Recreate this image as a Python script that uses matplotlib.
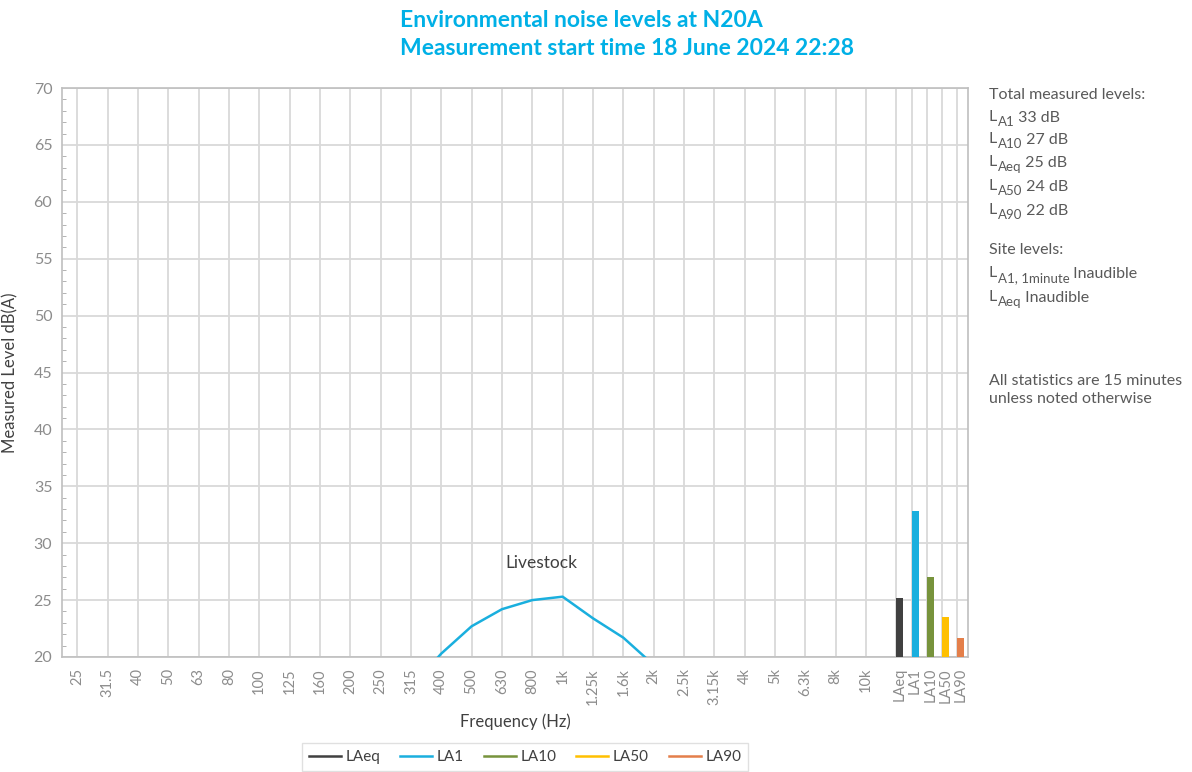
import matplotlib.pyplot as plt
import numpy as np
from matplotlib.lines import Line2D

plt.rcParams['font.family'] = ['Lato', 'DejaVu Sans']

# one-third octave bands shown on the x axis
bands = ['25', '31.5', '40', '50', '63', '80', '100', '125', '160', '200', '250',
         '315', '400', '500', '630', '800', '1k', '1.25k', '1.6k', '2k', '2.5k',
         '3.15k', '4k', '5k', '6.3k', '8k', '10k']
# LA1 spectrum (only the part above 20 dB is visible)
la1_spectrum = [np.nan] * 11 + [17.3, 20.3, 22.7, 24.2, 25.0, 25.3, 23.4, 21.7, 19.3] + [np.nan] * 7

stat_names = ['LAeq', 'LA1', 'LA10', 'LA50', 'LA90']
stat_values = [25.2, 32.8, 27.0, 23.5, 21.7]
stat_colors = ['#404040', '#1AAFDE', '#77933C', '#FFC000', '#E47F4A']

summary = [('A1', '33 dB'), ('A10', '27 dB'), ('Aeq', '25 dB'), ('A50', '24 dB'), ('A90', '22 dB')]
site = [('A1, 1minute', 'Inaudible'), ('Aeq', 'Inaudible')]

fig = plt.figure(figsize=(11.92, 7.72), dpi=100)
ax = fig.add_axes([62 / 1192, 1 - 657 / 772, (968 - 62) / 1192, (657 - 88) / 772])

x = np.arange(len(bands))
ax.plot(x, la1_spectrum, color=stat_colors[1], lw=1.8, zorder=3)

# statistic bars sit on the right of the band axis
stat_x = 27 + 0.5 * np.arange(len(stat_names))
bw = 0.23
ax.bar(stat_x, np.array(stat_values) - 20, bottom=20, width=bw, align='edge',
       color=stat_colors, zorder=3)

ax.set_xlim(-0.5, 29.36)
ax.set_ylim(20, 70)
ax.set_yticks(np.arange(20, 71, 5))
ax.set_yticks(np.arange(20, 71, 1), minor=True)
ax.set_xticks(list(x) + list(stat_x + bw / 2))
ax.set_xticklabels(bands + stat_names, rotation=90)
ax.tick_params(axis='x', length=0, colors='#8C8C8C', labelsize=10.5, pad=8)
ax.tick_params(axis='y', which='major', length=0, colors='#8C8C8C', labelsize=11.5, pad=7)
ax.tick_params(axis='y', which='minor', direction='in', length=3, color='#A6A6A6')

for g in list(x) + list(stat_x):
    ax.axvline(g, color='#D9D9D9', lw=1.3, zorder=1)
ax.grid(axis='y', color='#D9D9D9', lw=1.3, zorder=1)
ax.set_axisbelow(True)
for s in ax.spines.values():
    s.set_color('#BFBFBF')
    s.set_linewidth(1.2)

ax.set_ylabel('Measured Level dB(A)', fontsize=12, color='#404040')
ax.yaxis.set_label_coords(-44 / 906, 0.5)
ax.set_xlabel('Frequency (Hz)', fontsize=12, color='#404040', labelpad=6)

ax.text(15.3, 28.3, 'Livestock', fontsize=12.5, color='#404040', ha='center', va='center')

fig.text(400 / 1192, 1 - 10 / 772,
         'Environmental noise levels at N20A\nMeasurement start time 18 June 2024 22:28',
         ha='left', va='top', fontsize=16.5, fontweight='bold', color='#00B0E6',
         linespacing=1.4)

# right-hand notes
tx = 989 / 1192
tc = '#595959'
fs = 11.5


def sub_line(y, sub, rest):
    t = fig.text(tx, 1 - y / 772, 'L', fontsize=fs, color=tc, va='center')
    s = ax.annotate(sub, xy=(1, 0), xycoords=t, xytext=(0.3, -3), textcoords='offset points',
                    fontsize=9.5, color=tc, va='bottom', annotation_clip=False)
    ax.annotate(' ' + rest, xy=(1, 0), xycoords=s, xytext=(0, 2.6), textcoords='offset points',
                fontsize=fs, color=tc, va='bottom', annotation_clip=False)


fig.text(tx, 1 - 95 / 772, 'Total measured levels:', fontsize=fs, color=tc, va='center')
for (sub, val), yy in zip(summary, [117, 139, 162, 186, 210]):
    sub_line(yy, sub, val)
fig.text(tx, 1 - 250 / 772, 'Site levels:', fontsize=fs, color=tc, va='center')
for (sub, val), yy in zip(site, [273, 297]):
    sub_line(yy, sub, val)
fig.text(tx, 1 - 390 / 772, 'All statistics are 15 minutes\nunless noted otherwise',
         fontsize=fs, color=tc, va='center', linespacing=1.3)

handles = [Line2D([0], [0], color=c, lw=1.8) for c in stat_colors]
leg = fig.legend(handles, stat_names, loc='center', bbox_to_anchor=(525 / 1192, 1 - 757 / 772),
                 ncol=5, fontsize=11, frameon=True, fancybox=False, handlelength=2.1,
                 columnspacing=1.3, handletextpad=0.3, borderpad=0.45)
leg.get_frame().set_edgecolor('#D9D9D9')
for t in leg.get_texts():
    t.set_color('#404040')

fig.savefig('out.png', dpi=100)
